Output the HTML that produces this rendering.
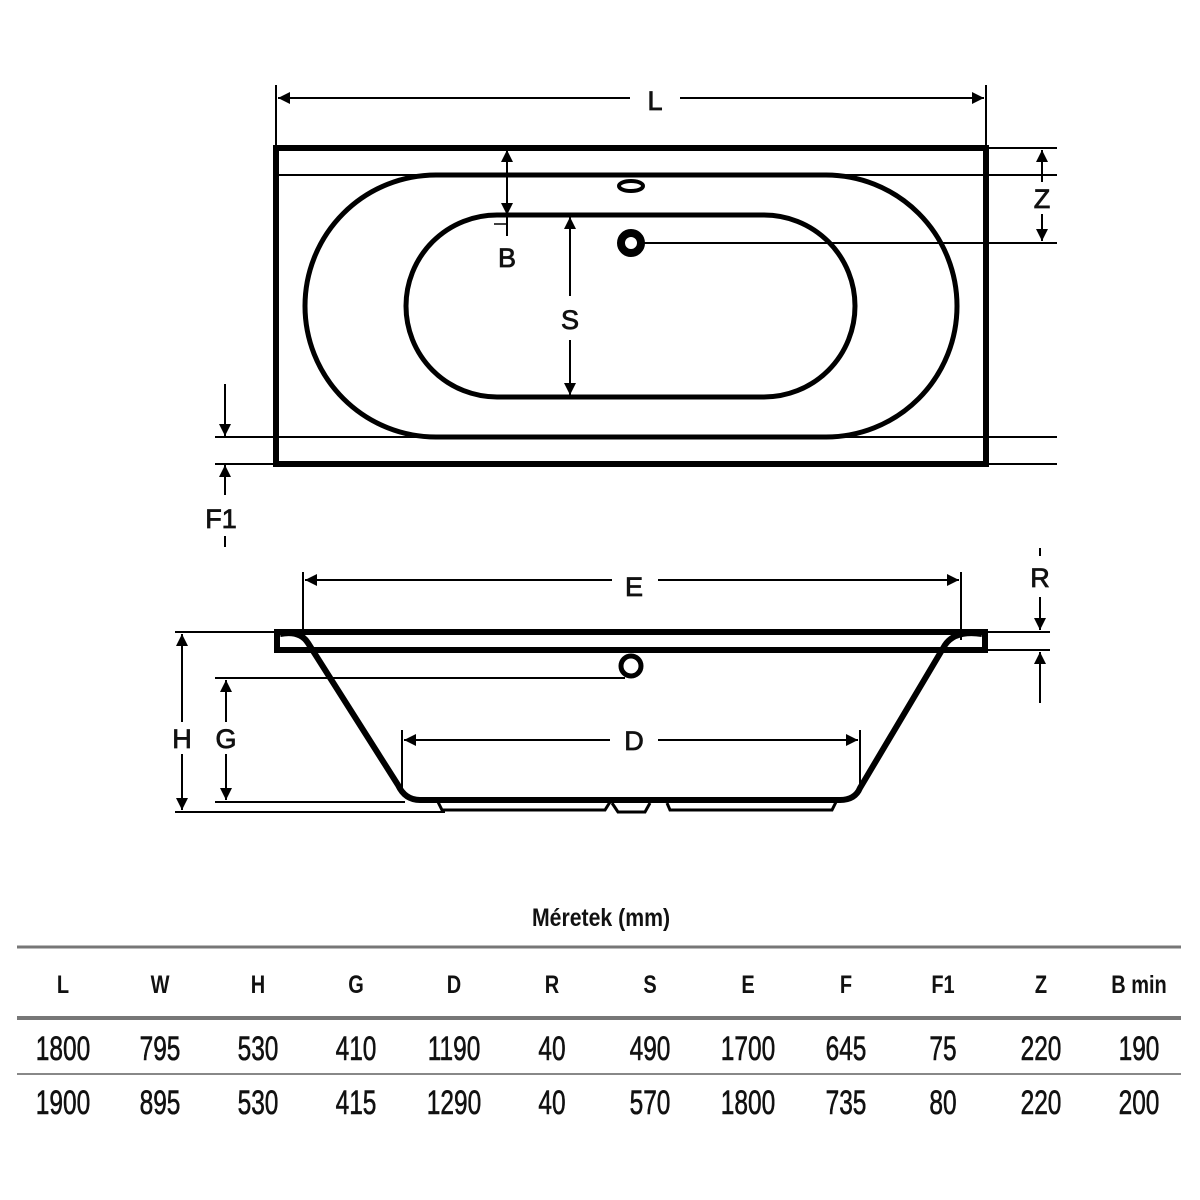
<!DOCTYPE html>
<html><head><meta charset="utf-8"><style>
body{margin:0;background:#fff}
svg{display:block}
text{font-family:"Liberation Sans",sans-serif;fill:#111}
</style></head><body>
<svg width="1200" height="1200" viewBox="0 0 1200 1200" xmlns="http://www.w3.org/2000/svg">
<defs>
<marker id="a" viewBox="0 0 10 10" refX="10" refY="5" markerWidth="30" markerHeight="12" markerUnits="userSpaceOnUse" orient="auto-start-reverse"><path d="M0,0L10,5L0,10z" fill="#000"/></marker>
</defs>
<g stroke="#000" fill="none">
<rect x="276" y="148" width="710" height="316" stroke-width="6"/>
<line x1="276" y1="175" x2="1057" y2="175" stroke-width="2"/>
<line x1="215" y1="437" x2="1057" y2="437" stroke-width="2"/>
<line x1="215" y1="464" x2="1057" y2="464" stroke-width="2"/>
<line x1="986" y1="148" x2="1057" y2="148" stroke-width="2"/>
<line x1="640" y1="243" x2="1057" y2="243" stroke-width="2"/>
<rect x="305" y="175" width="652" height="262" rx="131" stroke-width="5"/>
<rect x="406" y="215" width="449" height="182" rx="91" stroke-width="5"/>
<ellipse cx="631" cy="186" rx="12" ry="5" stroke-width="4"/>
<circle cx="631" cy="243" r="10" stroke-width="8"/>
<line x1="276" y1="85" x2="276" y2="148" stroke-width="2"/>
<line x1="986" y1="85" x2="986" y2="148" stroke-width="2"/>
<line x1="278" y1="98" x2="630" y2="98" stroke-width="2" marker-start="url(#a)"/>
<line x1="680" y1="98" x2="984" y2="98" stroke-width="2" marker-end="url(#a)"/>
<line x1="507" y1="150" x2="507" y2="215" stroke-width="2" marker-start="url(#a)" marker-end="url(#a)"/>
<line x1="507" y1="215" x2="507" y2="236" stroke-width="2"/>
<line x1="494" y1="224" x2="507" y2="224" stroke-width="1.5"/>
<line x1="570" y1="217" x2="570" y2="296" stroke-width="2" marker-start="url(#a)"/>
<line x1="570" y1="340" x2="570" y2="395" stroke-width="2" marker-end="url(#a)"/>
<line x1="1042" y1="150" x2="1042" y2="182" stroke-width="2" marker-start="url(#a)"/>
<line x1="1042" y1="214" x2="1042" y2="241" stroke-width="2" marker-end="url(#a)"/>
<line x1="225" y1="384" x2="225" y2="436" stroke-width="2" marker-end="url(#a)"/>
<line x1="225" y1="465" x2="225" y2="495" stroke-width="2" marker-start="url(#a)"/>
<line x1="225" y1="536" x2="225" y2="547" stroke-width="2"/>
<rect x="277" y="632" width="708" height="18" stroke-width="6"/>
<path d="M280,634 Q300,630 308,643 L398,785 Q405,800 420,800 L840,800 Q855,800 860,788 L945,645 Q955,630 982,634" stroke-width="6"/>
<path d="M438,802 L442,810 L605,810 L610,802 M612,803 L618,812 L645,812 L650,803 M667,803 L670,810 L832,810 L836,802" stroke-width="3"/>
<circle cx="631" cy="666" r="10" stroke-width="5"/>
<line x1="175" y1="632" x2="277" y2="632" stroke-width="2"/>
<line x1="215" y1="678" x2="625" y2="678" stroke-width="2"/>
<line x1="215" y1="802" x2="405" y2="802" stroke-width="2"/>
<line x1="175" y1="812" x2="445" y2="812" stroke-width="2"/>
<line x1="985" y1="632" x2="1050" y2="632" stroke-width="2"/>
<line x1="985" y1="650" x2="1050" y2="650" stroke-width="2"/>
<line x1="303" y1="572" x2="303" y2="640" stroke-width="2"/>
<line x1="961" y1="572" x2="961" y2="640" stroke-width="2"/>
<line x1="305" y1="580" x2="612" y2="580" stroke-width="2" marker-start="url(#a)"/>
<line x1="658" y1="580" x2="959" y2="580" stroke-width="2" marker-end="url(#a)"/>
<line x1="402" y1="730" x2="402" y2="790" stroke-width="2"/>
<line x1="860" y1="730" x2="860" y2="790" stroke-width="2"/>
<line x1="404" y1="740" x2="610" y2="740" stroke-width="2" marker-start="url(#a)"/>
<line x1="658" y1="740" x2="858" y2="740" stroke-width="2" marker-end="url(#a)"/>
<line x1="182" y1="634" x2="182" y2="722" stroke-width="2" marker-start="url(#a)"/>
<line x1="182" y1="754" x2="182" y2="810" stroke-width="2" marker-end="url(#a)"/>
<line x1="226" y1="680" x2="226" y2="722" stroke-width="2" marker-start="url(#a)"/>
<line x1="226" y1="754" x2="226" y2="800" stroke-width="2" marker-end="url(#a)"/>
<line x1="1040" y1="548" x2="1040" y2="556" stroke-width="2"/>
<line x1="1040" y1="597" x2="1040" y2="630" stroke-width="2" marker-end="url(#a)"/>
<line x1="1040" y1="652" x2="1040" y2="703" stroke-width="2" marker-start="url(#a)"/>
<line x1="17" y1="947" x2="1181" y2="947" stroke="#777" stroke-width="3"/>
<line x1="17" y1="1018" x2="1181" y2="1018" stroke="#777" stroke-width="4"/>
<line x1="17" y1="1074" x2="1181" y2="1074" stroke="#888" stroke-width="2"/>
</g>
<g font-size="27" text-anchor="middle" stroke="#111" stroke-width="0.8">
<text x="655" y="110">L</text>
<text x="507" y="267">B</text>
<text x="570" y="329">S</text>
<text x="1042" y="208">Z</text>
<text x="221" y="528">F1</text>
<text x="634" y="596">E</text>
<text x="634" y="750">D</text>
<text x="182" y="748">H</text>
<text x="226" y="748">G</text>
<text x="1040" y="587">R</text>
</g>
<g text-anchor="middle" font-weight="bold" font-size="25">
<text transform="translate(601,926) scale(0.85,1)">Méretek (mm)</text>
</g>
<g text-anchor="middle" font-weight="bold" font-size="25">
<text transform="translate(63,993) scale(0.8,1)">L</text>
<text transform="translate(160,993) scale(0.8,1)">W</text>
<text transform="translate(258,993) scale(0.8,1)">H</text>
<text transform="translate(356,993) scale(0.8,1)">G</text>
<text transform="translate(454,993) scale(0.8,1)">D</text>
<text transform="translate(552,993) scale(0.8,1)">R</text>
<text transform="translate(650,993) scale(0.8,1)">S</text>
<text transform="translate(748,993) scale(0.8,1)">E</text>
<text transform="translate(846,993) scale(0.8,1)">F</text>
<text transform="translate(943,993) scale(0.8,1)">F1</text>
<text transform="translate(1041,993) scale(0.8,1)">Z</text>
<text transform="translate(1139,993) scale(0.8,1)">B min</text>
</g>
<g text-anchor="middle" font-size="34" stroke="#111" stroke-width="0.6">
<text transform="translate(63,1060) scale(0.72,1)">1800</text>
<text transform="translate(160,1060) scale(0.72,1)">795</text>
<text transform="translate(258,1060) scale(0.72,1)">530</text>
<text transform="translate(356,1060) scale(0.72,1)">410</text>
<text transform="translate(454,1060) scale(0.72,1)">1190</text>
<text transform="translate(552,1060) scale(0.72,1)">40</text>
<text transform="translate(650,1060) scale(0.72,1)">490</text>
<text transform="translate(748,1060) scale(0.72,1)">1700</text>
<text transform="translate(846,1060) scale(0.72,1)">645</text>
<text transform="translate(943,1060) scale(0.72,1)">75</text>
<text transform="translate(1041,1060) scale(0.72,1)">220</text>
<text transform="translate(1139,1060) scale(0.72,1)">190</text>
<text transform="translate(63,1114) scale(0.72,1)">1900</text>
<text transform="translate(160,1114) scale(0.72,1)">895</text>
<text transform="translate(258,1114) scale(0.72,1)">530</text>
<text transform="translate(356,1114) scale(0.72,1)">415</text>
<text transform="translate(454,1114) scale(0.72,1)">1290</text>
<text transform="translate(552,1114) scale(0.72,1)">40</text>
<text transform="translate(650,1114) scale(0.72,1)">570</text>
<text transform="translate(748,1114) scale(0.72,1)">1800</text>
<text transform="translate(846,1114) scale(0.72,1)">735</text>
<text transform="translate(943,1114) scale(0.72,1)">80</text>
<text transform="translate(1041,1114) scale(0.72,1)">220</text>
<text transform="translate(1139,1114) scale(0.72,1)">200</text>
</g>
</svg>
</body></html>
